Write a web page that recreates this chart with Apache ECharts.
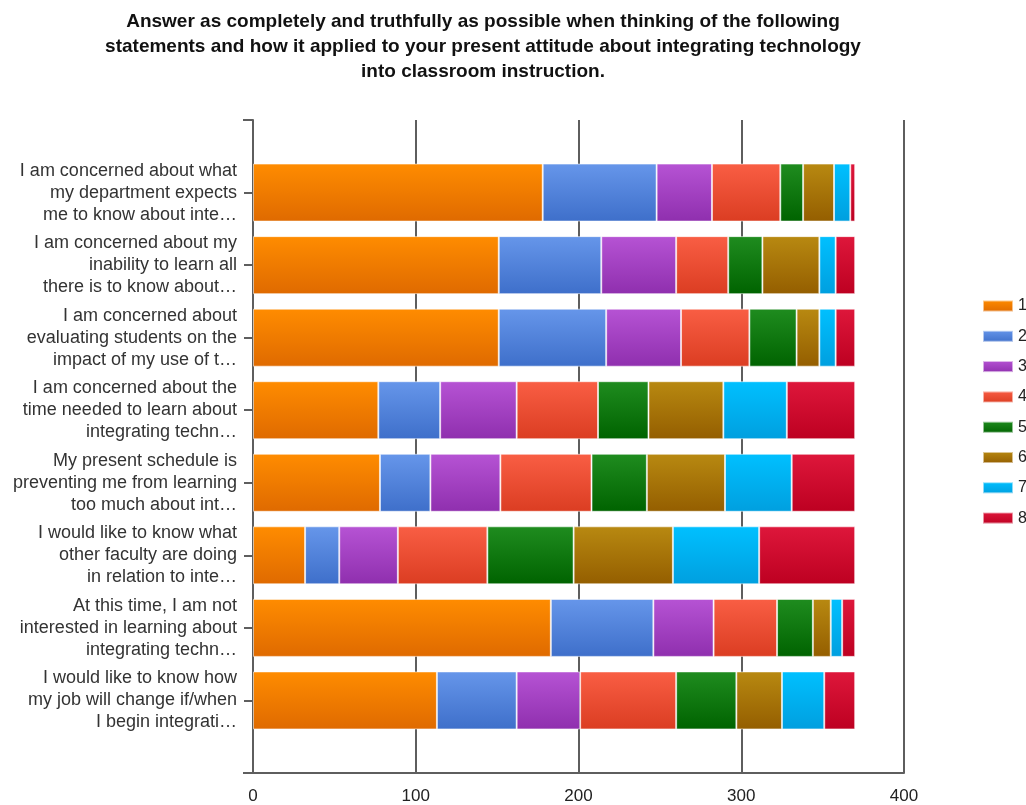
<!DOCTYPE html>
<html>
<head>
<meta charset="utf-8">
<title>Attitudes about integrating technology</title>
<script src="https://cdn.jsdelivr.net/npm/echarts@6/dist/echarts.min.js"></script>
<style>
  html, body { margin: 0; padding: 0; background: #ffffff; }
  #chart { width: 1026px; height: 805px; }
</style>
</head>
<body>
<div id="chart"></div>
<script>
// Survey statements (top to bottom)
const categories = [
  'I am concerned about what\nmy department expects\nme to know about inte\u2026',
  'I am concerned about my\ninability to learn all\nthere is to know about\u2026',
  'I am concerned about\nevaluating students on the\nimpact of my use of t\u2026',
  'I am concerned about the\ntime needed to learn about\nintegrating techn\u2026',
  'My present schedule is\npreventing me from learning\ntoo much about int\u2026',
  'I would like to know what\nother faculty are doing\nin relation to inte\u2026',
  'At this time, I am not\ninterested in learning about\nintegrating techn\u2026',
  'I would like to know how\nmy job will change if/when\nI begin integrati\u2026'
];

// Response counts per rating, one array per rating
const seriesNames = ['1', '2', '3', '4', '5', '6', '7', '8'];
const rating1 = [178, 151, 151, 77, 78, 32, 183, 113];
const rating2 = [70, 63, 66, 38, 31, 21, 63, 49];
const rating3 = [34, 46, 46, 47, 43, 36, 37, 39];
const rating4 = [42, 32, 42, 50, 56, 55, 39, 59];
const rating5 = [14, 21, 29, 31, 34, 53, 22, 37];
const rating6 = [19, 35, 14, 46, 48, 61, 11, 28];
const rating7 = [10, 10, 10, 39, 41, 53, 7, 26];
const rating8 = [3, 12, 12, 42, 39, 59, 8, 19];
const ratingValues = [rating1, rating2, rating3, rating4, rating5, rating6, rating7, rating8];

// Axis tick values
const xTicks = [0, 100, 200, 300, 400];

const titleText = 'Answer as completely and truthfully as possible when thinking of the following\n' +
  'statements and how it applied to your present attitude about integrating technology\n' +
  'into classroom instruction.';

// Top / bottom shades for each rating's bar gradient
const shades = [
  ['#ff8c00', '#df6a00'],
  ['#6696ea', '#3e6fca'],
  ['#b653d4', '#8f2fae'],
  ['#f95e44', '#db3d22'],
  ['#1f8c1f', '#006300'],
  ['#b88911', '#945e00'],
  ['#00c0ff', '#009fdf'],
  ['#de173b', '#bd0021']
];

const FONT = '"Liberation Sans", Arial, sans-serif';
const AXIS_GREY = '#5e5e5e';

const chart = echarts.init(document.getElementById('chart'), null, { renderer: 'canvas' });

const series = seriesNames.map((name, i) => ({
  name: name,
  type: 'bar',
  stack: 'total',
  xAxisIndex: 1,
  yAxisIndex: 1,
  barWidth: 58,
  data: ratingValues[i],
  itemStyle: {
    color: new echarts.graphic.LinearGradient(0, 0, 0, 1, [
      { offset: 0, color: shades[i][0] },
      { offset: 1, color: shades[i][1] }
    ]),
    borderColor: 'rgba(255,255,255,0.55)',
    borderWidth: 1
  },
  emphasis: { disabled: true }
}));

const option = {
  backgroundColor: '#ffffff',
  animation: false,
  textStyle: { fontFamily: FONT },
  title: {
    text: titleText,
    left: 478,
    top: 4,
    textAlign: 'center',
    textStyle: {
      fontFamily: FONT,
      fontSize: 19,
      fontWeight: 'bold',
      color: '#111111',
      lineHeight: 25
    }
  },
  legend: {
    data: seriesNames,
    orient: 'vertical',
    left: 977,
    top: 293,
    itemWidth: 30,
    itemHeight: 11,
    itemGap: 14.3,
    icon: 'rect',
    textStyle: {
      fontFamily: FONT,
      fontSize: 16,
      color: '#222222'
    },
    selectedMode: false
  },
  grid: [
    // frame: full plotting area with gridlines and the value axis
    { left: 253, right: 122, top: 120, bottom: 32, containLabel: false },
    // bars: inset by half a band top and bottom
    { left: 253, right: 122, top: 156.3, bottom: 68.3, containLabel: false }
  ],
  xAxis: [
    {
      gridIndex: 0,
      type: 'value',
      min: xTicks[0],
      max: xTicks[xTicks.length - 1],
      interval: xTicks[1] - xTicks[0],
      axisLine: { show: true, onZero: false, lineStyle: { color: AXIS_GREY, width: 2 } },
      axisTick: { show: false },
      axisLabel: { fontFamily: FONT, fontSize: 17, color: '#222222', margin: 15 },
      splitLine: { show: true, lineStyle: { color: AXIS_GREY, width: 2 } }
    },
    {
      gridIndex: 1,
      type: 'value',
      min: xTicks[0],
      max: xTicks[xTicks.length - 1],
      show: false
    }
  ],
  yAxis: [
    {
      gridIndex: 0,
      type: 'value',
      min: 0,
      max: 1,
      interval: 1,
      axisLine: { show: true, lineStyle: { color: AXIS_GREY, width: 2 } },
      axisTick: { show: true, length: 10, lineStyle: { color: AXIS_GREY, width: 2 } },
      axisLabel: { show: false },
      splitLine: { show: false }
    },
    {
      gridIndex: 1,
      type: 'category',
      inverse: true,
      data: categories,
      axisLine: { show: false },
      axisTick: { show: true, alignWithLabel: true, length: 9, lineStyle: { color: AXIS_GREY, width: 2 } },
      axisLabel: {
        fontFamily: FONT,
        fontSize: 18,
        color: '#333333',
        lineHeight: 22,
        margin: 16,
        align: 'right'
      },
      splitLine: { show: false }
    }
  ],
  series: series
};

chart.setOption(option);
</script>
</body>
</html>
